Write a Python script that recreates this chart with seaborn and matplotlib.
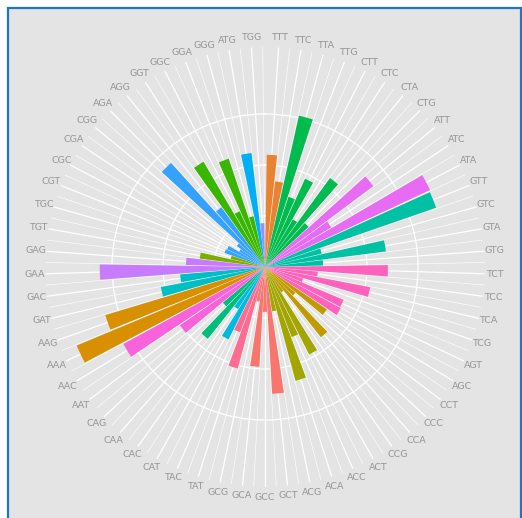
import numpy as np
import pandas as pd
import seaborn as sns
import matplotlib
matplotlib.use('Agg')
import matplotlib.pyplot as plt
from matplotlib.patches import Rectangle

codons = ['TTT', 'TTC', 'TTA', 'TTG', 'CTT', 'CTC', 'CTA', 'CTG',
          'ATT', 'ATC', 'ATA', 'GTT', 'GTC', 'GTA', 'GTG',
          'TCT', 'TCC', 'TCA', 'TCG', 'AGT', 'AGC',
          'CCT', 'CCC', 'CCA', 'CCG', 'ACT', 'ACC', 'ACA', 'ACG',
          'GCT', 'GCC', 'GCA', 'GCG', 'TAT', 'TAC', 'CAT', 'CAC',
          'CAA', 'CAG', 'AAT', 'AAC', 'AAA', 'AAG', 'GAT', 'GAC',
          'GAA', 'GAG', 'TGT', 'TGC', 'CGT', 'CGC', 'CGA', 'CGG',
          'AGA', 'AGG', 'GGT', 'GGC', 'GGA', 'GGG', 'ATG', 'TGG']

amino_acids = ['Phe', 'Phe', 'Leu', 'Leu', 'Leu', 'Leu', 'Leu', 'Leu',
               'Ile', 'Ile', 'Ile', 'Val', 'Val', 'Val', 'Val',
               'Ser', 'Ser', 'Ser', 'Ser', 'Ser', 'Ser',
               'Pro', 'Pro', 'Pro', 'Pro', 'Thr', 'Thr', 'Thr', 'Thr',
               'Ala', 'Ala', 'Ala', 'Ala', 'Tyr', 'Tyr', 'His', 'His',
               'Gln', 'Gln', 'Asn', 'Asn', 'Lys', 'Lys', 'Asp', 'Asp',
               'Glu', 'Glu', 'Cys', 'Cys', 'Arg', 'Arg', 'Arg', 'Arg',
               'Arg', 'Arg', 'Gly', 'Gly', 'Gly', 'Gly', 'Met', 'Trp']

# (bar length, arbitrary units)
usage = [22.0, 16.9, 30.4, 14.5, 19.0, 10.8, 21.6, 11.6,
         26.5, 15.1, 35.7, 35.5, 11.4, 23.9, 11.4,
         24.1, 10.4, 21.0, 7.8, 16.7, 16.9,
         14.7, 7.8, 17.6, 5.9, 19.2, 14.7, 23.1, 8.8,
         24.9, 8.8, 19.6, 6.9, 20.6, 13.7, 15.9, 9.8,
         18.0, 10.8, 20.2, 31.6, 40.0, 32.7, 20.8, 16.7,
         32.4, 15.5, 12.9, 6.9, 8.4, 8.2, 5.9, 6.9,
         27.5, 14.5, 23.9, 12.0, 22.4, 10.2, 22.5, 8.6]

aa_colors = {'Ala': '#F8766D', 'Phe': '#EA8331', 'Lys': '#D89000',
             'Pro': '#C09B00', 'Thr': '#A3A500', 'Cys': '#7CAE00',
             'Gly': '#39B600', 'Leu': '#00BB4E', 'Gln': '#00BF7D',
             'Val': '#00C1A3', 'Asp': '#00BFC4', 'His': '#00BAE0',
             'Met': '#00B0F6', 'Arg': '#35A2FF', 'Trp': '#9590FF',
             'Glu': '#C77CFF', 'Ile': '#E76BF3', 'Asn': '#FA62DB',
             'Ser': '#FF62BC', 'Tyr': '#FF6C91'}


def main():
    sns.set_theme(style='darkgrid')
    n = len(codons)
    # discrete positions 1..n, expanded by 0.6 on both ends like ggplot
    theta = (np.arange(1, n + 1) - 0.4) / (n + 0.2) * 2 * np.pi
    df = pd.DataFrame({'codon': codons, 'aa': amino_acids,
                       'usage': usage, 'theta': theta})

    px = 5.1  # pixels per unit
    fig = plt.figure(figsize=(5.22, 5.18), dpi=100, facecolor='white')
    fig.patches.append(Rectangle((8 / 522, -0.02), 513 / 522, 1.02 - 8 / 518,
                                 transform=fig.transFigure, facecolor='#E4E4E4',
                                 edgecolor='#1B75C9', lw=1.6, zorder=-5))

    ax = fig.add_axes([45 / 522, 31 / 518, 440 / 522, 440 / 518], projection='polar')
    ax.set_theta_zero_location('N')
    ax.set_theta_direction(-1)
    ax.patch.set_visible(False)
    ax.spines['polar'].set_visible(False)

    sns.barplot(data=df, x='theta', y='usage', hue='aa', palette=aa_colors,
                native_scale=True, dodge=False, width=0.9, errorbar=None,
                saturation=1, legend=False, ax=ax, zorder=3,
                linewidth=0, edgecolor='none')

    ax.set_ylim(0, 220 / px)
    ax.set_xticks(theta)
    ax.set_xticks(theta + np.pi / (n + 0.2), minor=True)
    ax.set_yticks([51 / px, 102 / px, 153 / px])
    ax.set_xticklabels([])
    ax.set_yticklabels([])
    ax.tick_params(length=0)
    ax.grid(True, which='major', color='white', lw=0.9)
    ax.xaxis.grid(True, which='minor', color='white', lw=0.45)
    ax.set_axisbelow(True)
    ax.set_xlabel('')
    ax.set_ylabel('')

    for t, c in zip(theta, codons):
        ax.text(t, 230 / px, c, ha='center', va='center', fontsize=6.8,
                color='#969696', clip_on=False)

    plt.savefig('out.png', dpi=100, facecolor=fig.get_facecolor())


if __name__ == '__main__':
    main()
